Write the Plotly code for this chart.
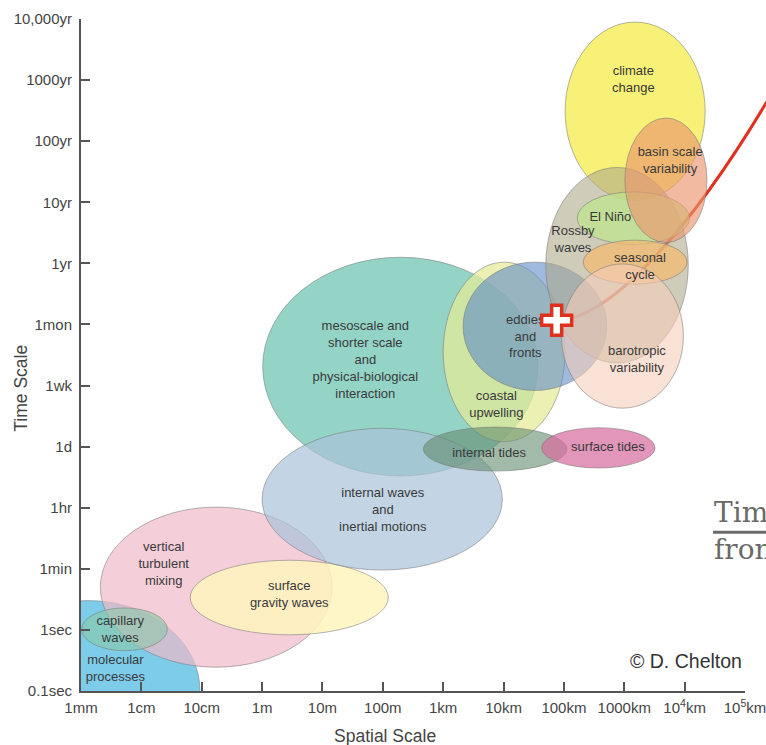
import plotly.graph_objects as go

# ---- axis scale (position index on each axis) ----
x_tick_vals = [-3, -2, -1, 0, 1, 2, 3, 4, 5, 6, 7, 8]          # log10(metres)
x_tick_text = ["1mm", "1cm", "10cm", "1m", "10m", "100m", "1km", "10km",
               "100km", "1000km", "10<sup>4</sup>km", "10<sup>5</sup>km"]
y_tick_vals = [0, 1, 2, 3, 4, 5, 6, 7, 8, 9, 10, 11]
y_tick_text = ["0.1sec", "1sec", "1min", "1hr", "1d", "1wk", "1mon", "1yr",
               "10yr", "100yr", "1000yr", "10,000yr"]

# ---- phenomena (ellipses in axis units) ----
names = ["molecular processes", "vertical turbulent mixing", "capillary waves",
         "surface gravity waves", "mesoscale", "internal waves", "coastal upwelling",
         "eddies and fronts", "internal tides", "surface tides", "climate change",
         "Rossby waves", "El Niño", "seasonal cycle", "barotropic variability",
         "basin scale variability"]
x_center = [-2.88, -0.76, -2.28, 0.45, 2.29, 1.99, 4.01, 4.52, 3.86, 5.57, 6.18, 5.88, 6.15, 6.18, 5.97, 6.69]
y_center = [0.01, 1.70, 1.01, 1.53, 5.31, 3.14, 5.55, 5.97, 3.96, 3.98, 9.49, 6.97, 7.74, 7.02, 5.81, 8.36]
x_radius = [1.85, 1.92, 0.71, 1.64, 2.28, 1.99, 1.01, 1.19, 1.19, 0.94, 1.16, 1.18, 0.93, 0.86, 1.01, 0.68]
y_radius = [1.47, 1.31, 0.35, 0.61, 1.79, 1.16, 1.47, 1.05, 0.36, 0.33, 1.46, 1.60, 0.43, 0.36, 1.18, 1.02]
fill_colors = ["rgba(110,198,232,0.9)", "rgba(240,185,200,0.7)", "rgba(140,200,165,0.6)",
               "rgba(255,244,190,0.85)", "rgba(105,196,178,0.72)", "rgba(170,195,218,0.7)",
               "rgba(228,236,150,0.72)", "rgba(95,140,200,0.6)", "rgba(100,140,110,0.6)",
               "rgba(215,110,160,0.72)", "rgba(246,238,95,0.85)", "rgba(175,170,140,0.6)",
               "rgba(190,230,140,0.7)", "rgba(245,185,110,0.7)", "rgba(245,205,185,0.6)",
               "rgba(235,150,110,0.65)"]

# ---- label texts and where they sit ----
label_text = ["molecular<br>processes", "vertical<br>turbulent<br>mixing", "capillary<br>waves",
              "surface<br>gravity waves",
              "mesoscale and<br>shorter scale<br>and<br>physical-biological<br>interaction",
              "internal waves<br>and<br>inertial motions", "coastal<br>upwelling",
              "eddies<br>and<br>fronts", "internal tides", "surface tides", "climate<br>change",
              "Rossby<br>waves", "El Niño", "seasonal<br>cycle", "barotropic<br>variability",
              "basin scale<br>variability"]
label_x = [-2.43, -1.63, -2.35, 0.45, 1.71, 2.0, 3.88, 4.36, 3.76, 5.73, 6.15, 5.15, 5.77, 6.26, 6.21, 6.76]
label_y = [0.35, 2.06, 0.99, 1.57, 5.41, 2.95, 4.68, 5.79, 3.89, 3.98, 10.0, 7.38, 7.75, 6.94, 5.41, 8.67]

# pointer marker
marker_x = [4.88]
marker_y = [6.07]

FONT = "Liberation Sans, Arial, Helvetica, sans-serif"

# plot area spans page px x 80.5..745, y 19..690.7
def px_x(p):
    return (p - 80.5) / 664.5

def px_y(p):
    return (690.7 - p) / 671.7

fig = go.Figure()

shapes = []
for cx, cy, rx, ry, col in zip(x_center, y_center, x_radius, y_radius, fill_colors):
    shapes.append(dict(type="circle", xref="x", yref="y",
                       x0=cx - rx, x1=cx + rx, y0=cy - ry, y1=cy + ry,
                       fillcolor=col, line=dict(color="rgba(120,120,120,0.55)", width=1),
                       layer="below"))

# red pointer curve (page overlay)
curve = "M {:.4f},{:.4f} C {:.4f},{:.4f} {:.4f},{:.4f} {:.4f},{:.4f}".format(
    px_x(555), px_y(320), px_x(610), px_y(321), px_x(695), px_y(225), px_x(775), px_y(88))
shapes.append(dict(type="path", xref="paper", yref="paper", path=curve,
                   line=dict(color="#e0301e", width=3), layer="below"))
# underline of overlay text
shapes.append(dict(type="line", xref="paper", yref="paper",
                   x0=px_x(713), x1=px_x(800), y0=px_y(532), y1=px_y(532),
                   line=dict(color="#6a6a6a", width=3)))

fig.add_trace(go.Scatter(x=label_x, y=label_y, mode="text", text=label_text,
                         textfont=dict(family=FONT, size=13, color="#3a3a3a"),
                         hoverinfo="skip", showlegend=False))

fig.add_trace(go.Scatter(x=marker_x, y=marker_y, mode="markers",
                         marker=dict(symbol="cross", size=25, color="white",
                                     line=dict(color="#e0301e", width=3.5)),
                         cliponaxis=False, hoverinfo="skip", showlegend=False))

annotations = [
    dict(text="Spatial Scale", x=px_x(385), y=px_y(736),
         xref="paper", yref="paper", showarrow=False, xanchor="center", yanchor="middle",
         font=dict(family=FONT, size=17.5, color="#444")),
    dict(text="Time Scale", x=px_x(21), y=px_y(388),
         xref="paper", yref="paper", showarrow=False, textangle=-90,
         xanchor="center", yanchor="middle",
         font=dict(family=FONT, size=17.5, color="#444")),
    dict(text="© D. Chelton", x=px_x(686), y=px_y(661),
         xref="paper", yref="paper", showarrow=False, xanchor="center", yanchor="middle",
         font=dict(family=FONT, size=19.5, color="#333")),
    dict(text="Time", x=px_x(712), y=px_y(512),
         xref="paper", yref="paper", showarrow=False, xanchor="left", yanchor="middle",
         font=dict(family="DejaVu Serif, serif", size=28, color="#6a6a6a")),
    dict(text="from", x=px_x(712), y=px_y(549),
         xref="paper", yref="paper", showarrow=False, xanchor="left", yanchor="middle",
         font=dict(family="DejaVu Serif, serif", size=28, color="#6a6a6a")),
]

fig.update_layout(
    width=766, height=745,
    margin=dict(l=80.5, r=21, t=19, b=54.3, autoexpand=False),
    paper_bgcolor="white", plot_bgcolor="white",
    shapes=shapes, annotations=annotations,
    showlegend=False,
    xaxis=dict(range=[-3, 8], tickvals=x_tick_vals, ticktext=x_tick_text,
               showgrid=False, zeroline=False, showline=True, linecolor="#555", linewidth=2,
               ticks="inside", ticklen=9, tickwidth=1.5, tickcolor="#555",
               ticklabelstandoff=2, ticklabeloverflow="allow",
               tickfont=dict(family=FONT, size=15, color="#444"), fixedrange=True),
    yaxis=dict(range=[0, 11], tickvals=y_tick_vals, ticktext=y_tick_text,
               showgrid=False, zeroline=False, showline=True, linecolor="#555", linewidth=2,
               ticks="inside", ticklen=9, tickwidth=1.5, tickcolor="#555",
               ticklabelstandoff=4, ticklabeloverflow="allow",
               tickfont=dict(family=FONT, size=15, color="#444"), fixedrange=True),
)

fig.write_html("out.html", config={"displayModeBar": False},
               post_script="document.body.style.margin='0';document.body.style.overflow='hidden';")
